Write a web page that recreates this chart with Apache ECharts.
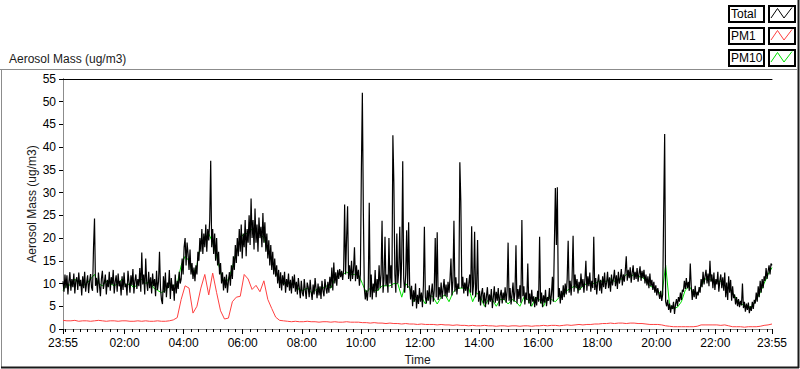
<!DOCTYPE html>
<html><head><meta charset="utf-8">
<script src="https://cdn.jsdelivr.net/npm/echarts@6/dist/echarts.min.js"></script>
<style>html,body{margin:0;padding:0;background:#fff}#c{width:800px;height:369px}</style>
</head><body><div id="c"></div>
<script>
// ---- data ----
const START_CLOCK_MIN = 23 * 60 + 55;   // axis starts at 23:55
const SPAN_MIN = 1440;                  // 24 hours
const TOTAL_STEP_MIN = 2;               // sample spacing of Total
const PM_STEP_MIN = 8;                  // sample spacing of PM1 / PM10
const seriesNames = ['Total', 'PM1', 'PM10'];
const chartTitle = 'Aerosol Mass (ug/m3)';
const xName = 'Time';
const yName = 'Aerosol Mass (ug/m3)';

// one row per hour (30 samples, 2 min apart), starting 23:55
const totalValues = [
  10.5, 8.2, 12, 9, 11.8, 7.6, 10.4, 12.5, 8.4, 11, 9.2, 12.2, 7.8, 10.6, 11.4, 8.6, 12.4, 9.4, 10.8, 7.4, 11.6, 9, 12.6, 8.2, 10.2, 11.8, 7.9, 10.5, 12.1, 9.1,
  8.4, 18, 24.3, 9.5, 11.2, 8, 12.4, 9.6, 7.2, 11, 12.8, 8.8, 10.2, 12, 7.6, 10.8, 9.2, 12.6, 8.4, 11.4, 9.8, 13, 7.8, 10.4, 11.8, 8.2, 12.2, 9.4, 10.6, 7.4,
  11.6, 8.6, 12.4, 9.2, 10, 7.4, 12.8, 10.4, 8, 11.8, 9.6, 13.2, 7.8, 10.6, 12, 8.8, 11, 9.4, 13.4, 8.2, 16.8, 9.8, 12, 7.6, 15.5, 10.2, 8.4, 12.6, 9, 11.4,
  7.8, 12.2, 9.4, 11, 7.2, 12.8, 8.6, 10.4, 17, 9, 6.4, 5.5, 11.6, 8, 12.4, 7, 10.2, 9, 13, 6.6, 11.2, 8.4, 9.8, 6.2, 12, 7.8, 10.6, 8.8, 12.6, 10,
  11, 15.5, 12, 18, 20, 14, 19, 16.5, 13, 17.5, 12, 14.5, 11, 13.5, 10.5, 14, 12, 17, 15, 20, 17, 22, 16.5, 21, 18, 23, 17, 22, 19.5, 24,
  37, 18, 22, 16.5, 21, 15, 20, 14, 17, 12, 14.5, 10, 12.5, 8.5, 11.5, 9, 12, 8, 10.5, 12.5, 9.5, 14, 11, 16, 13, 18.5, 14.5, 20, 16, 22,
  17, 23, 15.5, 21, 18, 24, 16, 22, 19, 25, 18.5, 28.7, 20, 24, 17.5, 26.5, 19, 23, 17, 24.5, 20, 22.5, 18, 25.5, 19, 23.5, 17, 21, 15.5, 19.5,
  14, 18.5, 13, 17, 12, 15.5, 11.5, 14, 10, 13, 9, 12.5, 8.5, 11.8, 9.6, 12.6, 8, 11, 9.2, 12.2, 8.4, 10.8, 7.8, 11.6, 9, 12, 8.2, 10.4, 7.6, 11.2,
  9, 6.8, 10.6, 8, 7.2, 11, 8.6, 6.6, 10.2, 9.2, 7, 10.8, 8.2, 6.4, 9.8, 7.6, 11.2, 8.8, 6.8, 10, 7.4, 9.4, 6.6, 10.6, 8.4, 7.2, 11, 9, 7.8, 10.4,
  8, 11.5, 9, 13.5, 8.5, 14.6, 10, 12.5, 9.5, 13, 11, 13.2, 11.4, 12.8, 10.8, 13, 27.4, 12, 20, 27, 11, 14, 10.5, 15, 11, 13, 18, 10.5, 14, 11,
  13, 9.5, 12, 35, 52, 26, 9, 6.5, 8.5, 6.2, 9, 27.8, 7, 12, 6.5, 10, 8, 13, 7, 11, 8.5, 14, 9, 12, 23.8, 8, 11, 20.3, 9.5, 12,
  8, 20, 10, 14, 9, 42.6, 32, 12, 8, 21, 10, 13, 22.5, 9, 15.6, 36.9, 11, 8, 12, 21.7, 9, 23.5, 10, 6.5, 9.5, 5, 8.5, 6, 10, 4.5,
  7.5, 5.5, 9, 6, 8, 4.8, 9.5, 22.5, 7, 5.6, 8.5, 6.2, 9.6, 5.4, 7.8, 10, 6, 8.6, 20, 7, 21.3, 6.4, 9.2, 7, 10.2, 6.6, 8.8, 11, 7.2, 9.8,
  7, 10.4, 8, 11, 15.5, 7.4, 10.6, 23.8, 8.2, 11.4, 7.6, 10, 8.8, 36.7, 28, 9, 11.5, 7.8, 10.2, 8.4, 11.2, 7.2, 9.8, 12, 8, 22.6, 7.4, 10, 21.4, 7,
  9, 19.6, 6, 8.4, 5.2, 7.8, 9, 5.6, 8, 4.8, 7.2, 9.2, 5.4, 7.6, 6, 8.8, 4.6, 7, 9.4, 5.8, 8.2, 6.2, 9, 5, 7.4, 8.6, 5.6, 8, 6.4, 9.2,
  5.8, 8.4, 19, 6.2, 9, 5.4, 7.6, 10.2, 6, 8.2, 18.4, 5.6, 8.8, 6.6, 9.6, 5.8, 24, 7.2, 9.4, 5.4, 8, 6.4, 14.4, 5.6, 7.8, 5, 8.6, 6, 7.2, 4.8,
  7, 5.2, 8.4, 6, 20.3, 5.6, 8, 4.8, 7.4, 5.8, 8.6, 5, 7, 6.2, 9, 5.4, 7.6, 11.5, 6, 18.5, 31, 18.5, 31.2, 7, 9, 5.6, 8.4, 6.4, 9.6, 7,
  10, 7.6, 11, 19.4, 8, 10.6, 7.4, 11.4, 20.5, 8.2, 12, 9, 11, 7.8, 10.4, 8.6, 12.2, 9.2, 11, 8, 10.8, 15, 8.4, 11.6, 9.4, 12.4, 8.2, 10.6, 9, 20.3,
  8.6, 11.2, 7.6, 10.4, 12, 8.4, 10.8, 7.8, 11.6, 9.2, 12.4, 8.8, 10.2, 12.6, 9, 11.4, 8.2, 12, 9.6, 11, 13, 9.4, 11.8, 8.8, 12.6, 10, 11.2, 13.2, 9.6, 12,
  10.4, 12.8, 16, 10.6, 13, 11.2, 13.6, 10.2, 12.4, 14, 10.8, 12.6, 11, 13.4, 10.4, 12.2, 13.8, 10.6, 12.8, 11.2, 13, 10, 12, 9.6, 11.6, 9, 12.2, 9.4, 10.8, 8.6,
  10.4, 8, 9.6, 7.4, 9, 7.8, 6.6, 8.4, 6.2, 7.6, 26, 42.9, 6, 5, 6.4, 4.2, 5.6, 3.6, 5.2, 4.4, 6, 3.3, 5.4, 6.6, 5, 7, 6, 8, 6.4, 8.6,
  8.2, 10.6, 8.8, 11.2, 9, 10.4, 8.4, 14.4, 9.4, 6.4, 8.8, 7, 9.5, 6.6, 8.2, 7.4, 9.2, 8, 11, 9.2, 12.6, 9.8, 11.6, 13, 10, 12.2, 9.4, 15, 10.4, 12,
  9, 12.4, 8.6, 11, 9.8, 12.6, 8.2, 10.6, 12, 9, 11.4, 8.4, 12.4, 7, 10.2, 6.4, 11.6, 8, 10.8, 6.2, 9.4, 6.8, 7.6, 5.4, 7, 5, 6.6, 4.8, 6.2, 5.2,
  10, 4.6, 6, 3.8, 5.6, 4.2, 5.8, 3.5, 5, 4, 6, 4.4, 6.4, 5.6, 8, 6, 9.4, 7, 10.6, 8, 11, 9, 11.6, 10.6, 13.4, 11, 12.6, 14, 12, 14.4,
  14
];

const pm1Values = [
  1.9, 1.8, 1.8, 1.9, 1.7, 1.8, 1.8, 1.7, 1.8, 1.9, 1.8, 1.7, 1.8, 1.8, 1.7, 1.8, 1.8, 1.7, 1.7, 1.8,
  1.7, 1.8, 1.7, 1.7, 1.8, 1.7, 1.7, 1.8,
  2.0, 2.5, 6.5, 9.5, 9, 3.5, 5, 9, 12, 7.5, 12.3, 8, 4, 2.2, 2.4, 6, 7, 7.2, 12, 11, 8.7, 9.6,
  8.2, 10.6, 6.5, 4.5, 2.6, 1.9, 1.8,
  1.7, 1.6, 1.7, 1.6, 1.6, 1.7, 1.6, 1.6, 1.5, 1.6, 1.6, 1.5, 1.6, 1.5, 1.5, 1.6, 1.5, 1.5, 1.5,
  1.4, 1.4, 1.3, 1.4, 1.3, 1.3, 1.2, 1.3, 1.2, 1.2, 1.1, 1.2, 1.1, 1.1, 1.0, 1.1, 1.0, 1.0, 1.0, 0.9,
  1.0, 0.9, 0.9, 0.8, 0.9, 0.8, 0.8, 0.7, 0.8, 0.7, 0.7, 0.8, 0.7, 0.7, 0.6, 0.7, 0.7, 0.6, 0.7, 0.7,
  0.6, 0.7, 0.7, 0.6, 0.7, 0.7, 0.8, 0.7, 0.8, 0.8, 0.7, 0.8, 0.9, 0.8, 0.9, 1.0, 0.9, 1.0, 1.0, 1.1,
  1.1, 1.2, 1.2, 1.3, 1.2, 1.3, 1.3, 1.2, 1.3, 1.3, 1.2, 1.2, 1.1, 1.0, 1.0, 1.0, 0.9, 0.7, 0.6, 0.5,
  0.5, 0.5, 0.5, 0.5, 0.5, 0.6, 0.9, 0.9, 0.9, 0.9, 0.9, 0.8, 0.9, 0.7, 0.5, 0.5, 0.5, 0.4, 0.5, 0.5,
  0.5, 0.6, 0.8, 0.9, 1.1
];

const pm10Values = [
  8.5, 10, 9.5, 11, 10, 9.5, 10, 11, 12, 10, 9.5, 10.5, 10, 9.5, 10, 11, 9.5, 10, 9, 10,
  11, 10, 10.5, 9, 8.5, 8, 8.5, 9.5, 9.5, 10, 14, 16, 15, 12, 14, 19, 20, 21, 19, 16,
  12.5, 10, 11, 13.5, 17, 20, 21, 21, 22, 21, 21, 20, 17, 15, 12.5, 10.5, 10, 10, 10, 10,
  8.5, 8.5, 9, 8, 8.5, 9, 9, 9.5, 9, 11, 12, 12, 12.5, 12, 12, 12, 10, 8, 9, 8.5,
  8.5, 9.5, 9.5, 9.5, 10, 10, 7, 10, 9, 6, 7, 7, 5.5, 7.5, 7, 5.5, 7, 7.5, 6, 8,
  9, 9, 9, 9, 6, 8, 7, 5, 6.5, 6.5, 5, 6.5, 6.5, 5.5, 6.5, 6, 5, 7, 6.5, 5,
  7, 6.5, 5, 7, 6.5, 6, 7, 7.5, 8.5, 9, 9.5, 8.5, 9.5, 10, 10, 10, 10.5, 10.5, 10.5, 11,
  10.5, 11, 11, 12, 11.5, 12, 11.5, 11.5, 10.5, 9.5, 9, 8.5, 7.2, 14, 5.2, 4.5, 4.8, 6, 8.6, 9.4,
  8, 7.5, 9.5, 11, 11, 10.5, 10.5, 10.5, 9.5, 9, 8, 6.5, 5.6, 5.2, 4.8, 5, 6.5, 8, 10, 12,
  13.5
];

// x tick labels (minutes after 23:55): 23:55, 02:00, 04:00 ... 22:00, 23:55
const xLabelMinutes = [0, 125, 245, 365, 485, 605, 725, 845, 965, 1085, 1205, 1325, 1440];
const yMin = 0, yMax = 55, yStep = 5;
// ---- end data ----

const minorTickMinutes = [];
for (let m = 5; m < SPAN_MIN; m += 15) minorTickMinutes.push(m);

function clock(v) {
  const c = ((START_CLOCK_MIN + Math.round(v)) % 1440 + 1440) % 1440;
  const h = Math.floor(c / 60), m = c % 60;
  return (h < 10 ? '0' : '') + h + ':' + (m < 10 ? '0' : '') + m;
}
const toPairs = (arr, step) => arr.map((v, i) => [i * step, v]);

const FONT = 'Liberation Sans, Arial, sans-serif';
const chart = echarts.init(document.getElementById('c'), null, { renderer: 'svg' });

const legendRows = [
  { name: seriesNames[0], color: '#000000', y: 6 },
  { name: seriesNames[1], color: '#ff4040', y: 28 },
  { name: seriesNames[2], color: '#00e000', y: 50 }
];
const graphics = [];
graphics.push({ type: 'line', shape: { x1: 0, y1: 69.5, x2: 797, y2: 69.5 }, style: { stroke: '#8c8c8c', lineWidth: 1 }, silent: true });
graphics.push({ type: 'line', shape: { x1: 1.5, y1: 69, x2: 1.5, y2: 368 }, style: { stroke: '#8c8c8c', lineWidth: 1 }, silent: true });
graphics.push({ type: 'line', shape: { x1: 1, y1: 367.5, x2: 799, y2: 367.5 }, style: { stroke: '#1a1a1a', lineWidth: 2 }, silent: true });
graphics.push({ type: 'line', shape: { x1: 798.5, y1: 0, x2: 798.5, y2: 368 }, style: { stroke: '#1a1a1a', lineWidth: 2 }, silent: true });
legendRows.forEach(r => {
  graphics.push({ type: 'rect', shape: { x: 729, y: r.y, width: 35, height: 16 }, style: { fill: '#fff', stroke: '#000', lineWidth: 2 }, silent: true });
  graphics.push({ type: 'text', x: 731, y: r.y + 8, style: { text: r.name, font: '12px ' + FONT, fill: '#000', verticalAlign: 'middle', align: 'left' }, silent: true });
  graphics.push({ type: 'rect', shape: { x: 769, y: r.y, width: 26, height: 16 }, style: { fill: '#fff', stroke: '#000', lineWidth: 2 }, silent: true });
  graphics.push({ type: 'polyline', shape: { points: [[771, r.y + 12], [777.5, r.y + 2.5], [784, r.y + 12], [792, r.y + 1.5]] }, style: { stroke: r.color, lineWidth: 1, fill: 'none' }, silent: true });
});

const option = {
  animation: false,
  backgroundColor: '#ffffff',
  title: { text: chartTitle, left: 4, top: 48, textStyle: { fontSize: 12, fontWeight: 'normal', color: '#1a1a1a', fontFamily: FONT } },
  grid: { left: 63, right: 28, top: 79, bottom: 40, containLabel: false, outerBoundsMode: 'none' },
  xAxis: [
    {
      type: 'value', min: 0, max: SPAN_MIN, position: 'bottom',
      name: xName, nameLocation: 'middle', nameGap: 25, nameMoveOverlap: false,
      nameTextStyle: { fontSize: 12, color: '#1a1a1a', fontFamily: FONT },
      axisLine: { show: true, lineStyle: { color: '#8c8c8c', width: 1 } },
      axisTick: { show: true, inside: false, length: 5, lineStyle: { color: '#000' }, customValues: xLabelMinutes },
      axisLabel: { show: true, customValues: xLabelMinutes, formatter: clock, fontSize: 12, color: '#000', fontFamily: FONT, margin: 8, hideOverlap: false, showMinLabel: true, showMaxLabel: true },
      splitLine: { show: false }
    },
    {
      type: 'value', min: 0, max: SPAN_MIN, position: 'bottom',
      axisLine: { show: false },
      axisTick: { show: true, length: 3, lineStyle: { color: '#000' }, customValues: minorTickMinutes },
      axisLabel: { show: false },
      splitLine: { show: false }
    },
    {
      type: 'value', min: 0, max: SPAN_MIN, position: 'top',
      axisLine: { show: true, lineStyle: { color: '#000', width: 1 } },
      axisTick: { show: false }, axisLabel: { show: false }, splitLine: { show: false }
    }
  ],
  yAxis: [
    {
      type: 'value', min: yMin, max: yMax, interval: yStep, position: 'left',
      name: yName, nameLocation: 'middle', nameGap: 25, nameRotate: 90, nameMoveOverlap: false,
      nameTextStyle: { fontSize: 12, color: '#1a1a1a', fontFamily: FONT },
      axisLine: { show: true, lineStyle: { color: '#000', width: 1 } },
      axisTick: { show: true, length: 4, lineStyle: { color: '#000' } },
      axisLabel: { fontSize: 12, color: '#000', fontFamily: FONT, margin: 7 },
      splitLine: { show: false }
    },
    {
      type: 'value', min: yMin, max: yMax, interval: yStep, position: 'right',
      axisLine: { show: true, lineStyle: { color: '#8c8c8c', width: 1 } },
      axisTick: { show: false }, axisLabel: { show: false }, splitLine: { show: false }
    }
  ],
  series: [
    { type: 'line', name: seriesNames[2], data: toPairs(pm10Values, PM_STEP_MIN), xAxisIndex: 0, yAxisIndex: 0, symbol: 'none', showSymbol: false, lineStyle: { color: '#00e000', width: 1 }, itemStyle: { color: '#00e000' }, z: 2 },
    { type: 'line', name: seriesNames[0], data: toPairs(totalValues, TOTAL_STEP_MIN), xAxisIndex: 0, yAxisIndex: 0, symbol: 'none', showSymbol: false, lineStyle: { color: '#000000', width: 1.2 }, itemStyle: { color: '#000' }, z: 3 },
    { type: 'line', name: seriesNames[1], data: toPairs(pm1Values, PM_STEP_MIN), xAxisIndex: 0, yAxisIndex: 0, symbol: 'none', showSymbol: false, lineStyle: { color: '#ff4040', width: 1 }, itemStyle: { color: '#ff4040' }, z: 4 }
  ],
  graphic: graphics
};
chart.setOption(option);
</script>
</body></html>
